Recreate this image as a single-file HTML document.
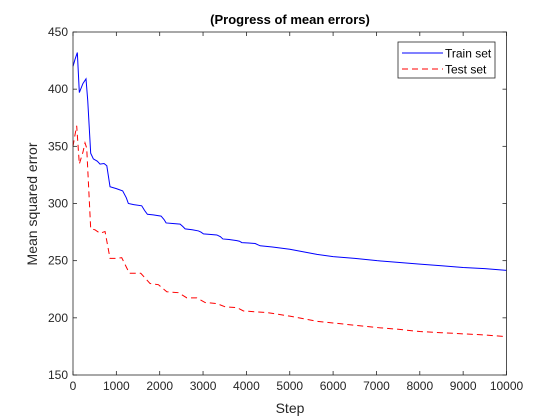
<!DOCTYPE html>
<html><head><meta charset="utf-8"><style>
html,body{margin:0;padding:0;background:#fff;}
svg{display:block;font-family:"Liberation Sans",Arial,sans-serif;}
</style></head><body>
<svg id="chart" width="560" height="420">
  <rect x="0" y="0" width="560" height="420" fill="#fff"/>
  <rect x="73" y="32" width="433.5" height="343" fill="#fff"/>
  <g id="series"></g>
  <g id="axes"></g>
  <text x="290" y="24" text-anchor="middle" font-size="13" font-weight="bold" fill="#000">(Progress of mean errors)</text>
  <text x="290" y="413" text-anchor="middle" font-size="14" fill="#262626">Step</text>
  <text transform="translate(37,204) rotate(-90)" text-anchor="middle" font-size="14" fill="#262626">Mean squared error</text>
  <g>
    <rect x="398" y="42" width="97" height="36" fill="#fff" stroke="#262626" stroke-width="0.8"/>
    <line x1="402" y1="53" x2="443" y2="53" stroke="#0000ff" stroke-width="1"/>
    <text x="445" y="57.5" font-size="12" fill="#000">Train set</text>
    <line x1="402" y1="69" x2="443" y2="69" stroke="#ff0000" stroke-width="1" stroke-dasharray="6,4"/>
    <text x="445" y="73.5" font-size="12" fill="#000">Test set</text>
  </g>
</svg>
<script>
const trainSteps = [0,46,100,146,230,300,340,408,470,560,623,716,780,854,1000,1146,1230,1277,1400,1585,1650,1716,1850,2032,2100,2148,2300,2471,2530,2587,2750,2894,2950,3010,3150,3318,3400,3456,3600,3779,3840,3895,4050,4203,4260,4318,4600,5000,5627,6000,6500,7012,7500,8000,8500,9000,9500,10000];
const trainValues = [420,426,432,397,405,409,390,344,339,337,334.5,335,333,314.7,313,311,305,300,299,298,294,290.6,290,289,286,283,282.5,282,280,277.8,277,276,275,273.4,273,272.5,271,269,268.5,267.5,267,265.8,265.5,265,264,263,262,260,255.5,253.5,252,250,248.5,247,245.5,244,243,241.5];
const testSteps = [0,46,85,146,230,277,316,408,508,623,739,854,1000,1124,1300,1450,1563,1778,1970,2163,2430,2625,2856,3048,3318,3510,3779,3933,4500,5000,5627,6000,6500,7012,7500,8000,8500,9000,9500,10000];
const testValues = [350,360,368,334.5,345,353,348.5,278,277,274,275.5,252,252,252.6,239,239,239,230,229,222.8,222,217.5,217.5,213.4,212.5,209.6,209,206,204.5,201.5,197,195.5,193.5,191.5,190,188,187,186,185,183.5];
const xTicks = [0,1000,2000,3000,4000,5000,6000,7000,8000,9000,10000];
const yTicks = [150,200,250,300,350,400,450];

const X0=73, X1=506.5, Y0=375, Y1=32;
function xs(v){return X0+(v-0)/10000*(X1-X0);}
function ys(v){return Y0-(v-150)/300*(Y0-Y1);}
const NS='http://www.w3.org/2000/svg';
const series=document.getElementById('series');
const axes=document.getElementById('axes');

function addLine(steps, vals, color, dash, name){
  const p=document.createElementNS(NS,'polyline');
  p.setAttribute('points', steps.map((s,i)=>xs(s).toFixed(2)+','+ys(vals[i]).toFixed(2)).join(' '));
  p.setAttribute('fill','none');
  p.setAttribute('stroke',color);
  p.setAttribute('stroke-width','1');
  if(dash) p.setAttribute('stroke-dasharray',dash);
  
  
  series.appendChild(p);
}
addLine(trainSteps, trainValues, '#0000ff', null, 'train-set-line');
addLine(testSteps, testValues, '#ff0000', '6,4', 'test-set-line');

// axes box
const box=document.createElementNS(NS,'rect');
box.setAttribute('x',X0);box.setAttribute('y',Y1);
box.setAttribute('width',X1-X0);box.setAttribute('height',Y0-Y1);
box.setAttribute('fill','none');box.setAttribute('stroke','#262626');box.setAttribute('stroke-width','0.8');


axes.appendChild(box);

xTicks.forEach(t=>{
  const x=xs(t);
  [[Y0,Y0-4],[Y1,Y1+4]].forEach(([a,b])=>{
    const l=document.createElementNS(NS,'line');
    l.setAttribute('x1',x);l.setAttribute('x2',x);l.setAttribute('y1',a);l.setAttribute('y2',b);
    l.setAttribute('stroke','#262626');l.setAttribute('stroke-width','0.8');
    
    
    axes.appendChild(l);
  });
  const tx=document.createElementNS(NS,'text');
  tx.setAttribute('x',x);tx.setAttribute('y',Y0+15);
  tx.setAttribute('text-anchor','middle');tx.setAttribute('font-size','12');tx.setAttribute('fill','#262626');
  tx.textContent=t;
  
  
  axes.appendChild(tx);
});
yTicks.forEach(t=>{
  const y=ys(t);
  [[X0,X0+4],[X1,X1-4]].forEach(([a,b])=>{
    const l=document.createElementNS(NS,'line');
    l.setAttribute('y1',y);l.setAttribute('y2',y);l.setAttribute('x1',a);l.setAttribute('x2',b);
    l.setAttribute('stroke','#262626');l.setAttribute('stroke-width','0.8');
    
    
    axes.appendChild(l);
  });
  const tx=document.createElementNS(NS,'text');
  tx.setAttribute('x',X0-5);tx.setAttribute('y',y+4);
  tx.setAttribute('text-anchor','end');tx.setAttribute('font-size','12');tx.setAttribute('fill','#262626');
  tx.textContent=t;
  
  
  axes.appendChild(tx);
});
</script>
</body></html>
